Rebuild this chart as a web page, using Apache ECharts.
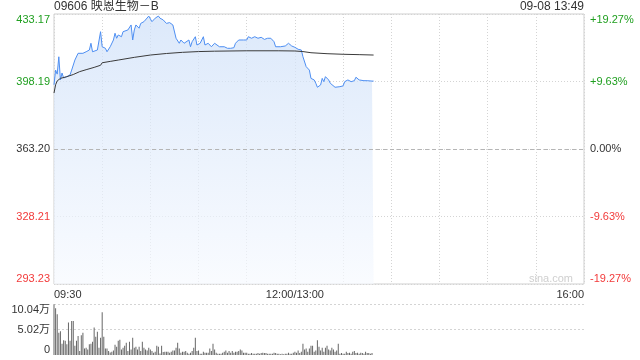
<!DOCTYPE html>
<html>
<head>
<meta charset="utf-8">
<script src="https://cdn.jsdelivr.net/npm/echarts@6/dist/echarts.min.js"></script>
<style>
html,body{margin:0;padding:0;background:#fff;}
#chart{width:640px;height:360px;}
</style>
</head>
<body>
<div id="chart"></div>
<script>
// ---- data ----
const stockTitle = '09606 映恩生物－B';
const stampText = '09-08 13:49';
const prevClose = 363.20;
const priceMin = 293.23;
const priceMax = 433.17;
const priceTickLabels = ['293.23', '328.21', '363.20', '398.19', '433.17'];
const pctTickLabels = ['-19.27%', '-9.63%', '0.00%', '+9.63%', '+19.27%'];
const volTickLabels = ['0', '5.02万', '10.04万'];
const volMax = 10.04; // 万
const timeTickMinutes = [0, 150, 330];
const timeTickLabels = ['09:30', '12:00/13:00', '16:00'];

// minutes since 09:30 (lunch break removed) and price at that minute
const priceMinutes = [0,1,2,3,4,5,6,8,10,11,13,15,16,18,20,22,23,24,25,27,29,30,32,33,35,37,38,39,40,42,43,44,46,48,49,50,51,53,54,56,59,61,63,65,66,68,70,72,74,75,76,78,79,81,82,84,85,86,88,89,91,92,93,94,96,98,100,101,103,104,106,108,110,112,113,115,118,120,121,123,125,127,129,131,133,135,137,138,141,144,146,148,150,152,154,155,157,159,160,162,163,164,166,167,168,169,171,172,173,175,178,180,181,183,185,187,188,190,191,193,195,198,199];
const prices = [396.5,404.1,402.0,411.0,399.0,402.6,400.0,400.7,401.6,404.1,409.3,412.8,413.6,412.8,413.6,414.5,418.0,413.6,412.8,414.5,424.0,416.2,415.4,413.6,416.2,419.7,423.2,420.6,422.3,421.4,424.0,423.2,424.9,427.5,419.7,424.9,427.5,425.8,428.3,429.2,432.1,429.2,431.0,432.1,431.0,430.1,428.3,428.7,427.5,426.6,420.6,418.0,419.7,418.0,418.8,419.7,416.2,418.8,421.4,417.1,418.0,418.0,421.4,417.1,418.0,416.2,418.0,418.8,416.2,417.1,416.2,415.4,415.4,415.7,418.0,419.7,419.7,419.7,421.4,420.6,421.4,420.6,421.1,420.0,420.6,420.6,418.8,416.2,416.2,416.6,418.0,416.6,415.9,414.9,414.5,411.0,405.9,404.1,399.8,399.0,397.3,395.2,396.4,399.8,398.1,400.7,399.0,397.3,397.3,395.2,395.5,395.9,398.1,399.0,398.1,398.6,400.4,399.0,399.3,398.6,398.6,398.4,398.4];

const avgMinutes = [0,1,2,4,8,12,16,20,25,29,30,35,40,50,60,70,80,90,100,120,140,150,155,160,170,180,190,199];
const avgPrices = [392.2,396.5,398.5,399.8,400.7,401.8,403.3,404.3,405.5,406.6,407.9,408.6,409.3,410.7,411.9,412.7,413.3,413.7,413.9,414.1,414.1,414.0,413.7,413.1,412.6,412.3,412.1,411.9];

// volume per minute, in 万 shares, starting at 09:30
const volumes = [10.0,9.2,8.0,4.4,4.7,2.2,2.9,2.8,2.1,6.4,2.8,6.7,6.7,1.8,2.8,3.75,0.8,3.9,4.4,1.3,1.45,1.1,2.1,2.2,2.6,5.4,3.6,4.6,1.45,3.4,8.4,3.6,1.3,1.3,0.8,0.5,0.65,0.9,2.0,1.6,2.8,3.0,1.1,1.45,1.8,2.4,0.8,2.6,1.1,3.4,1.45,1.6,1.1,1.6,0.8,2.6,1.45,1.1,0.9,1.45,1.1,0.8,0.45,0.65,1.8,1.6,0.3,1.8,0.6,0.65,0.65,0.65,0.45,0.65,0.9,0.9,1.45,2.4,1.3,0.45,0.65,0.65,0.8,0.45,0.25,0.45,0.8,1.45,3.4,0.8,0.9,0.25,0.25,0.65,0.45,0.45,0.45,1.3,0.8,2.2,1.1,0.45,0.25,0.25,0.25,0.45,0.65,0.9,0.45,0.8,0.45,0.8,0.45,0.65,0.65,0.8,1.1,0.9,0.45,0.45,0.45,0.25,0.25,0.4,0.25,0.25,0.25,0.4,0.25,0.4,0.45,0.4,0.4,0.25,0.25,0.25,0.25,0.45,0.4,0.25,0.25,0.13,0.25,0.13,0.25,0.25,0.45,0.25,0.25,0.45,0.65,0.45,0.9,0.4,0.65,2.2,1.1,1.3,0.65,1.3,1.8,1.8,0.65,0.9,2.9,1.6,0.9,1.45,0.65,1.45,1.8,1.1,0.9,1.45,1.1,0.65,0.9,2.2,0.25,0.4,0.25,0.25,0.65,0.4,0.45,0.25,0.65,0.8,0.4,0.45,0.25,0.45,0.4,0.25,0.65,0.4,0.4,0.25,0.4];

// ---- chart ----
const GREEN = '#1f9f1f', RED = '#f23a3a', DARK = '#333';
const half = (priceMax - priceMin) / 2;
const step = half / 2;
const FONT = '"Liberation Sans", Arial, "Noto Sans CJK SC", sans-serif';

function tickIndex(v) { return Math.round(v / step) + 2; }
function colorKey(i) { return i > 2 ? 'g' : (i < 2 ? 'r' : 'k'); }
const rich = {
  g: { color: GREEN, fontSize: 11, fontFamily: FONT },
  r: { color: RED, fontSize: 11, fontFamily: FONT },
  k: { color: DARK, fontSize: 11, fontFamily: FONT }
};

const chart = echarts.init(document.getElementById('chart'), null, { renderer: 'canvas' });

const dotted = { color: '#d4d4d4', type: [1, 2], width: 1 };

chart.setOption({
  animation: false,
  textStyle: { fontFamily: FONT },
  title: [
    { text: stockTitle, left: 54, top: 1, padding: 0,
      textStyle: { fontSize: 12, fontWeight: 'normal', color: DARK, fontFamily: FONT } },
    { text: stampText, right: 56, top: 1, padding: 0,
      textStyle: { fontSize: 12, fontWeight: 'normal', color: DARK, fontFamily: FONT } }
  ],
  graphic: [{
    type: 'text', right: 67, top: 273,
    style: { text: 'sina.com', fill: '#cfcfcf', fontSize: 11, fontFamily: FONT }
  }],
  grid: [
    { left: 54, right: 56, top: 14, height: 270, show: true, borderColor: '#cfcfcf', borderWidth: 1 },
    { left: 54, right: 56, top: 304, height: 51 }
  ],
  xAxis: [
    { type: 'value', gridIndex: 0, min: 0, max: 330, interval: 30,
      axisLine: { show: false }, axisTick: { show: false },
      splitLine: { show: true, lineStyle: dotted },
      axisLabel: {
        show: true, margin: 5, fontSize: 11, color: DARK, fontFamily: FONT,
        showMinLabel: true, showMaxLabel: true,
        alignMinLabel: 'left', alignMaxLabel: 'right',
        formatter: function (v) {
          const i = timeTickMinutes.indexOf(Math.round(v));
          return i >= 0 ? timeTickLabels[i] : '';
        }
      }
    },
    { type: 'value', gridIndex: 1, min: 0, max: 330, interval: 30,
      axisLine: { show: false }, axisTick: { show: false },
      splitLine: { show: false }, axisLabel: { show: false } }
  ],
  yAxis: [
    { type: 'value', gridIndex: 0, position: 'left', min: -half, max: half, interval: step,
      axisLine: { show: false }, axisTick: { show: false },
      splitLine: { show: true, lineStyle: dotted },
      axisLabel: {
        margin: 4, showMinLabel: true, showMaxLabel: true,
        verticalAlignMinLabel: 'bottom', verticalAlignMaxLabel: 'top',
        formatter: function (v) { const i = tickIndex(v); return '{' + colorKey(i) + '|' + priceTickLabels[i] + '}'; },
        rich: rich
      }
    },
    { type: 'value', gridIndex: 0, position: 'right', min: -half, max: half, interval: step,
      axisLine: { show: false }, axisTick: { show: false }, splitLine: { show: false },
      axisLabel: {
        margin: 6, showMinLabel: true, showMaxLabel: true,
        verticalAlignMinLabel: 'bottom', verticalAlignMaxLabel: 'top',
        formatter: function (v) { const i = tickIndex(v); return '{' + colorKey(i) + '|' + pctTickLabels[i] + '}'; },
        rich: rich
      }
    },
    { type: 'value', gridIndex: 2 - 1, min: 0, max: volMax, interval: volMax / 2,
      axisLine: { show: false }, axisTick: { show: false },
      splitLine: { show: true, lineStyle: { color: ['rgba(0,0,0,0)', '#d4d4d4', '#d4d4d4'], type: [2, 2], width: 1 } },
      axisLabel: {
        margin: 4, fontSize: 11, color: DARK, fontFamily: FONT,
        showMinLabel: true, showMaxLabel: true,
        verticalAlignMinLabel: 'bottom', verticalAlignMaxLabel: 'top',
        formatter: function (v) { return volTickLabels[Math.round(v / (volMax / 2))]; }
      }
    }
  ],
  series: [
    { type: 'line', xAxisIndex: 0, yAxisIndex: 0, showSymbol: false, symbol: 'none',
      data: priceMinutes.map((m, i) => [m, prices[i] - prevClose]),
      lineStyle: { color: '#4d8ef2', width: 1 },
      areaStyle: {
        origin: 'start',
        color: new echarts.graphic.LinearGradient(0, 0, 0, 1, [
          { offset: 0, color: '#cddff8' },
          { offset: 1, color: '#f6f9fe' }
        ])
      },
      markLine: {
        silent: true, symbol: 'none', label: { show: false },
        lineStyle: { color: '#b5b5b5', type: [4, 3], width: 1 },
        data: [{ yAxis: 0 }]
      },
      z: 2
    },
    { type: 'line', xAxisIndex: 0, yAxisIndex: 0, showSymbol: false, symbol: 'none',
      data: avgMinutes.map((m, i) => [m, avgPrices[i] - prevClose]),
      lineStyle: { color: '#3a3a3a', width: 1 }, z: 3
    },
    { type: 'bar', xAxisIndex: 1, yAxisIndex: 2, barWidth: 1,
      data: volumes.map((v, i) => [i, v]),
      itemStyle: { color: '#666' }
    }
  ]
});
</script>
</body>
</html>
